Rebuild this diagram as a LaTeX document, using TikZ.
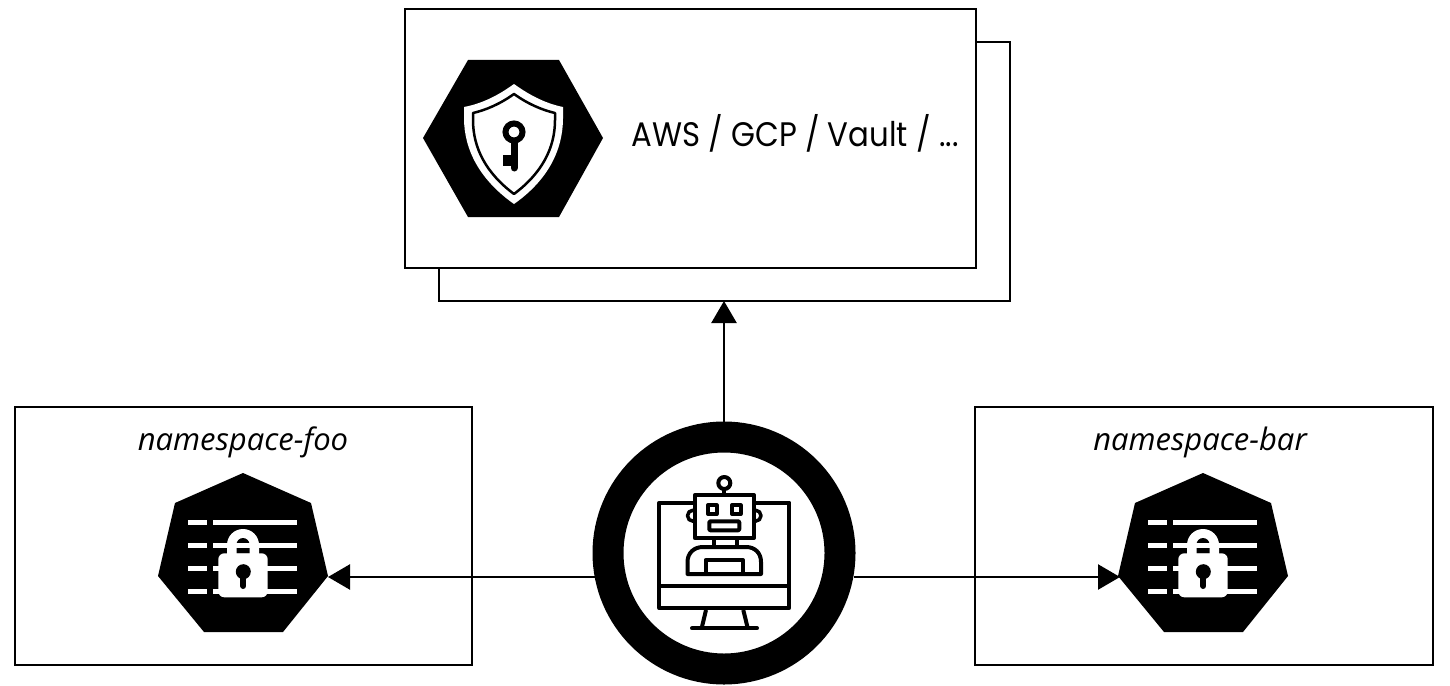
\documentclass[tikz,border=0pt]{standalone}
\usepackage{fontspec}
\setmainfont{Poppins}[FakeStretch=0.905]
\newfontfamily\labelfont{Open Sans}
\usetikzlibrary{arrows.meta}
\tikzset{
  box/.style={draw=black,fill=white,line width=1.1pt,inner sep=0pt,outer sep=0pt,anchor=north west},
  nslabel/.style={inner sep=0pt,font=\labelfont\fontsize{31}{35}\selectfont\itshape},
  conn/.style={line width=2.4pt,-{Triangle[length=22pt,width=25pt]}},
  ico/.style={line width=4pt,draw=black,line join=round},
  wline/.style={draw=white,line width=5pt}
}
\newcommand{\secreticon}{%
  \fill[black] (243,473)--(311,503)--(328,576)--(283,632)--(204,632)--(158,576)--(175,503)--cycle;
  \foreach \yy in {522.7,545.7,568.3,591}{
    \draw[wline] (188.3,\yy)--(206.7,\yy);
    \draw[wline] (213.3,\yy)--(297.3,\yy);
  }
  % shackle
  \fill[white] (227,556) -- (227,545) arc[start angle=180,end angle=360,radius=16] -- (259,556) -- cycle;
  \fill[black] (236.5,553.5) -- (236.5,544.5) arc[start angle=180,end angle=360,radius=6.5] -- (249.5,553.5) -- cycle;
  \draw[wline] (232,545.7)--(254,545.7);
  \fill[white,rounded corners=6pt] (218.3,553.3) rectangle (267.7,597.3);
  % keyhole
  \fill[black] (243.3,571.7) circle[radius=7.5];
  \draw[black,line width=6pt,line cap=round] (243.3,572)--(243.3,586);
}
\begin{document}
\begin{tikzpicture}[x=1pt,y=-1pt]
\useasboundingbox (0,0) rectangle (1450,685);
\fill[white] (0,0) rectangle (1450,685);
% boxes
\node[box,minimum width=571pt,minimum height=259pt] (backbox) at (439,42) {};
\node[box,minimum width=571pt,minimum height=259pt] (frontbox) at (405,9) {};
\node[box,minimum width=457pt,minimum height=258pt] (foobox) at (15,407) {};
\node[box,minimum width=458pt,minimum height=258pt] (barbox) at (975,407) {};
% vault
\fill[black] (468,60)--(559,60)--(603,138)--(559,217)--(468,217)--(423,138)--cycle;
\fill[white] (514,84) .. controls (532,97) and (548,104) .. (563,107) -- (563,118) .. controls (563,150) and (548,180) .. (514,204) .. controls (480,180) and (464,150) .. (464,118) -- (464,107) .. controls (480,104) and (496,97) .. (514,84) -- cycle;
\draw[black,line width=2.5pt,line join=round] (514,94) .. controls (528,104) and (542,110) .. (555,113) -- (555,120) .. controls (555,148) and (542,173) .. (514,194) .. controls (486,173) and (473,148) .. (473,120) -- (473,113) .. controls (486,110) and (500,104) .. (514,94) -- cycle;
\draw[black,line width=6pt] (514,132) circle[radius=8.5];
\draw[black,line width=7pt,line cap=round] (514,142)--(514,168);
\fill[black] (503,155) rectangle (514,166);
\node[inner sep=0pt,font=\fontsize{34}{40}\selectfont] (vaulttext) at (795,133) {AWS / GCP / Vault / ...};
% labels
\node[nslabel] (foolabel) at (243,442) {namespace-foo};
\node[nslabel] (barlabel) at (1200,442) {namespace-bar};
% secrets
\secreticon
\begin{scope}[xshift=960pt]\secreticon\end{scope}
\coordinate (footip) at (328,577);
\coordinate (bartip) at (1120,577);
% robot
\node[draw=black,line width=31pt,fill=white,circle,minimum size=232pt,inner sep=0pt] (robot) at (724,553) {};
% connectors
\draw[conn] (robot.north) -- (backbox.south -| robot.north);
\draw[conn] (robot.190.5 |- footip) -- (footip);
\draw[conn] (robot.-10.5 |- bartip) -- (bartip);
% monitor
\draw[ico] (659.3,502.7) rectangle (789.3,608);
\draw[ico] (659.3,585.7)--(789.3,585.7);
\draw[ico] (706,610)--(701.7,628);
\draw[ico] (743.3,610)--(747.7,628);
\draw[ico,line cap=round] (692,628.3)--(757,628.3);
% ears
\draw[ico,fill=white,line width=3.5pt] (693,515.7) circle[radius=5.5];
\draw[ico,fill=white,line width=3.5pt] (755.5,515.7) circle[radius=5.5];
% antenna
\draw[ico] (724.3,490)--(724.3,495);
\draw[ico,fill=white] (724.3,483) circle[radius=6];
% head
\draw[ico,fill=white] (694.7,495.3) rectangle (754,538);
\draw[ico] (708,505.3) rectangle (716.5,514);
\draw[ico] (732,505.3) rectangle (740.5,514);
\draw[ico,rounded corners=1pt] (709.3,521.3) rectangle (739.3,530.3);
% neck
\draw[ico] (713.5,538)--(713.5,547);
\draw[ico] (737,538)--(737,547);
% body
\draw[ico,fill=white] (687.5,574) -- (687.5,562) .. controls (687.5,553) and (694,547) .. (703,547) -- (746,547) .. controls (755,547) and (761,553) .. (761,562) -- (761,574) -- cycle;
\draw[ico] (705.5,574) -- (705.5,560) -- (743,560) -- (743,574);
\end{tikzpicture}
\end{document}
